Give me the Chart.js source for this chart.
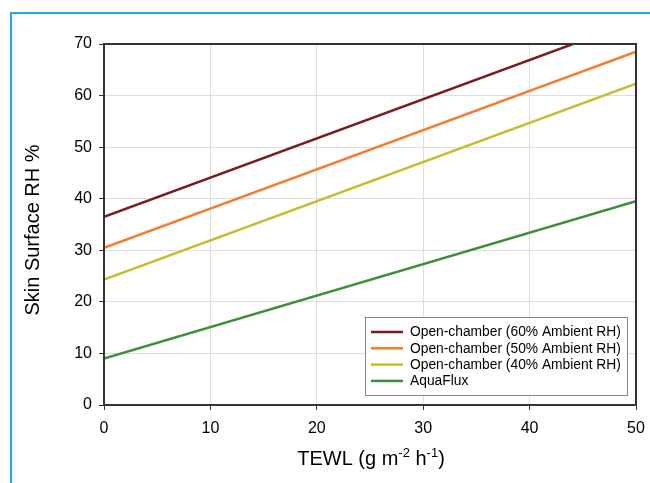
<!DOCTYPE html>
<html lang="en">
<head>
    <meta charset="UTF-8">
    <title>Skin Surface RH vs TEWL</title>
    <script src="https://cdn.jsdelivr.net/npm/chart.js"></script>
    <style>
        html, body { margin: 0; padding: 0; background: #fff; }
        #wrap { width: 650px; height: 483px; position: relative; }
    </style>
</head>
<body>
    <div id="wrap"><canvas id="rhChart"></canvas></div>
    <script>
        // TEWL values (x) and skin surface RH (y) at each end of the lines
        const tewl = [0, 50];
        const open60 = [36.5, 74.5];
        const open50 = [30.5, 68.5];
        const open40 = [24.3, 62.3];
        const aquaFlux = [9.0, 39.5];
        const seriesLabels = [
            'Open-chamber (60% Ambient RH)',
            'Open-chamber (50% Ambient RH)',
            'Open-chamber (40% Ambient RH)',
            'AquaFlux'
        ];
        const seriesColors = ['#7a1c1c', '#f97a2c', '#c7bd2e', '#3f8e3c'];
        const xTicks = [0, 10, 20, 30, 40, 50];
        const yTicks = [0, 10, 20, 30, 40, 50, 60, 70];

        const font = 'Liberation Sans, Arial, sans-serif';

        function toPoints(ys) {
            return tewl.map((x, i) => ({ x: x, y: ys[i] }));
        }

        // frame, box border, legend and axis titles
        const decorations = {
            id: 'decorations',
            beforeDraw(chart) {
                const c = chart.ctx;
                c.save();
                c.strokeStyle = '#25a9e3';
                c.lineWidth = 2;
                c.beginPath();
                c.moveTo(11, 490);
                c.lineTo(11, 13);
                c.lineTo(660, 13);
                c.stroke();
                c.restore();
            },
            afterDraw(chart) {
                const c = chart.ctx;
                const a = chart.chartArea;
                c.save();
                c.strokeStyle = '#333';
                c.lineWidth = 2;
                c.strokeRect(a.left, a.top, a.right - a.left, a.bottom - a.top);

                // legend box
                const lx = 365, ly = 317, lw = 262, lh = 78;
                c.fillStyle = '#fff';
                c.fillRect(lx, ly, lw, lh);
                c.strokeStyle = '#888';
                c.lineWidth = 1;
                c.strokeRect(lx + 0.5, ly + 0.5, lw, lh);
                c.font = '13.8px ' + font;
                c.textBaseline = 'middle';
                c.textAlign = 'left';
                chart.data.datasets.forEach((ds, i) => {
                    const y = 332 + i * 16.3;
                    c.strokeStyle = ds.borderColor;
                    c.lineWidth = 2.5;
                    c.beginPath();
                    c.moveTo(371, y);
                    c.lineTo(403, y);
                    c.stroke();
                    c.fillStyle = '#000';
                    c.fillText(ds.label, 410, y + 0.5);
                });

                // y title
                c.textBaseline = 'alphabetic';
                c.save();
                c.translate(39, 230);
                c.rotate(-Math.PI / 2);
                c.font = '20px ' + font;
                c.textAlign = 'center';
                c.fillStyle = '#000';
                c.fillText('Skin Surface RH %', 0, 0);
                c.restore();

                // x title with superscripts
                const parts = [
                    ['TEWL (g m', 20, 0], ['-2', 13, -8], [' h', 20, 0], ['-1', 13, -8], [')', 20, 0]
                ];
                let total = 0;
                parts.forEach(p => { c.font = p[1] + 'px ' + font; total += c.measureText(p[0]).width; });
                let x = 371 - total / 2;
                c.textAlign = 'left';
                c.fillStyle = '#000';
                parts.forEach(p => {
                    c.font = p[1] + 'px ' + font;
                    c.fillText(p[0], x, 465 + p[2]);
                    x += c.measureText(p[0]).width;
                });
                c.restore();
            }
        };

        new Chart(document.getElementById('rhChart'), {
            type: 'line',
            data: {
                datasets: [open60, open50, open40, aquaFlux].map((ys, i) => ({
                    label: seriesLabels[i],
                    data: toPoints(ys),
                    borderColor: seriesColors[i],
                    backgroundColor: seriesColors[i],
                    borderWidth: 2.5,
                    pointRadius: 0,
                    fill: false
                }))
            },
            options: {
                responsive: true,
                maintainAspectRatio: false,
                animation: false,
                layout: { padding: { top: 44, right: 14, left: 0, bottom: 0 } },
                plugins: {
                    legend: { display: false },
                    tooltip: { enabled: false }
                },
                scales: {
                    x: {
                        type: 'linear',
                        min: 0,
                        max: 50,
                        afterFit(s) { s.height = 78; s.paddingLeft = 0; s.paddingRight = 0; },
                        afterBuildTicks(s) { s.ticks = xTicks.map(v => ({ value: v })); },
                        grid: { color: '#dcdfe0', tickColor: '#333', tickLength: 5, lineWidth: 1 },
                        border: { display: false },
                        ticks: { color: '#000', font: { family: font, size: 16 }, padding: 9, maxRotation: 0 }
                    },
                    y: {
                        min: 0,
                        max: 70,
                        afterFit(s) { s.width = 104; s.paddingTop = 0; s.paddingBottom = 0; },
                        afterBuildTicks(s) { s.ticks = yTicks.map(v => ({ value: v })); },
                        grid: { color: '#dcdfe0', tickColor: '#333', tickLength: 5, lineWidth: 1 },
                        border: { display: false },
                        ticks: { color: '#000', font: { family: font, size: 16 }, padding: 7 }
                    }
                }
            },
            plugins: [decorations]
        });
    </script>
</body>
</html>
